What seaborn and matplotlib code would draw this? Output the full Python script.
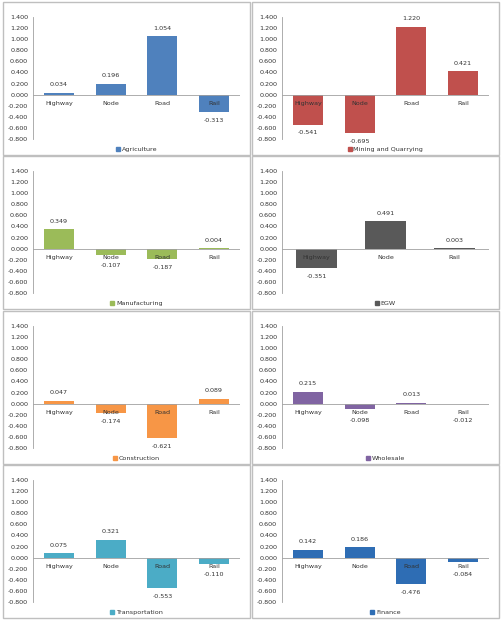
import matplotlib.pyplot as plt
import matplotlib.patches as mpatches
import seaborn as sns
import pandas as pd

sns.set_theme(style='white')
plt.rcParams['font.family'] = ['DejaVu Sans']

# data
routes = ['Highway', 'Node', 'Road', 'Rail']
egw_routes = ['Highway', 'Node', 'Rail']
agriculture = [0.034, 0.196, 1.054, -0.313]
mining = [-0.541, -0.695, 1.220, 0.421]
manufacturing = [0.349, -0.107, -0.187, 0.004]
egw = [-0.351, 0.491, 0.003]
construction = [0.047, -0.174, -0.621, 0.089]
wholesale = [0.215, -0.098, 0.013, -0.012]
transportation = [0.075, 0.321, -0.553, -0.110]
finance = [0.142, 0.186, -0.476, -0.084]

y_ticks = [-0.8, -0.6, -0.4, -0.2, 0.0, 0.2, 0.4, 0.6, 0.8, 1.0, 1.2, 1.4]

W, H = 502, 621
fig = plt.figure(figsize=(W / 100, H / 100), dpi=100)

PW, PH = 247, 153
col_x = [3, 252]
row_y = [2, 156, 311, 465]
AX_H = 122
FS = 4.6
TXT = '#333333'
PT_PER_UNIT = AX_H / 2.2 * 0.72  # points per data unit on the y axis


def panel(px, py, cats, vals, name, color):
    # gray frame around each chart
    fig.patches.append(mpatches.Rectangle((px / W, 1 - (py + PH) / H), PW / W, PH / H,
                                          transform=fig.transFigure, fill=False,
                                          ec='#BFBFBF', lw=1.0))
    ax = fig.add_axes([(px + 30) / W, 1 - (py + 137) / H, 207 / W, AX_H / H])
    df = pd.DataFrame({'route': cats, 'value': vals})
    sns.barplot(data=df, x='route', y='value', color=color, width=0.58,
                saturation=1, linewidth=0, ax=ax)
    ax.set_ylim(-0.8, 1.4)
    ax.set_yticks(y_ticks)
    ax.set_yticklabels([f'{round(v, 3) + 0:.3f}' for v in y_ticks], fontsize=FS, color=TXT)
    ax.tick_params(axis='y', length=2, width=0.5, color='#A0A0A0', pad=1.5)
    ax.set_xticks([])
    ax.set_xlabel('')
    ax.set_ylabel('')
    for s in ['top', 'right', 'bottom']:
        ax.spines[s].set_visible(False)
    ax.spines['left'].set_color('#A0A0A0')
    ax.spines['left'].set_linewidth(0.6)
    ax.axhline(0, color='#A0A0A0', lw=0.6, zorder=3)
    for i, (c, v) in enumerate(zip(cats, vals)):
        ax.annotate(c, (i, 0), xytext=(0, -6.5), textcoords='offset points',
                    ha='center', va='center', fontsize=FS, color=TXT, zorder=4)
        if v >= 0:
            ax.annotate(f'{v:.3f}', (i, v), xytext=(0, 4), textcoords='offset points',
                        ha='center', va='bottom', fontsize=FS, color=TXT)
        else:
            off = max(-v * PT_PER_UNIT + 4, 10)
            ax.annotate(f'{v:.3f}', (i, 0), xytext=(0, -off), textcoords='offset points',
                        ha='center', va='top', fontsize=FS, color=TXT)
    ax.legend(handles=[mpatches.Patch(color=color)], labels=[name], loc='center',
              bbox_to_anchor=(0.5, -0.085), frameon=False, fontsize=FS,
              handlelength=0.6, handleheight=0.6, handletextpad=0.3,
              labelcolor=TXT)


panel(col_x[0], row_y[0], routes, agriculture, 'Agriculture', '#4F81BD')
panel(col_x[1], row_y[0], routes, mining, 'Mining and Quarrying', '#C0504D')
panel(col_x[0], row_y[1], routes, manufacturing, 'Manufacturing', '#9BBB59')
panel(col_x[1], row_y[1], egw_routes, egw, 'EGW', '#595959')
panel(col_x[0], row_y[2], routes, construction, 'Construction', '#F79646')
panel(col_x[1], row_y[2], routes, wholesale, 'Wholesale', '#8064A2')
panel(col_x[0], row_y[3], routes, transportation, 'Transportation', '#4BACC6')
panel(col_x[1], row_y[3], routes, finance, 'Finance', '#2E6DB4')

fig.savefig('out.png', dpi=100)
